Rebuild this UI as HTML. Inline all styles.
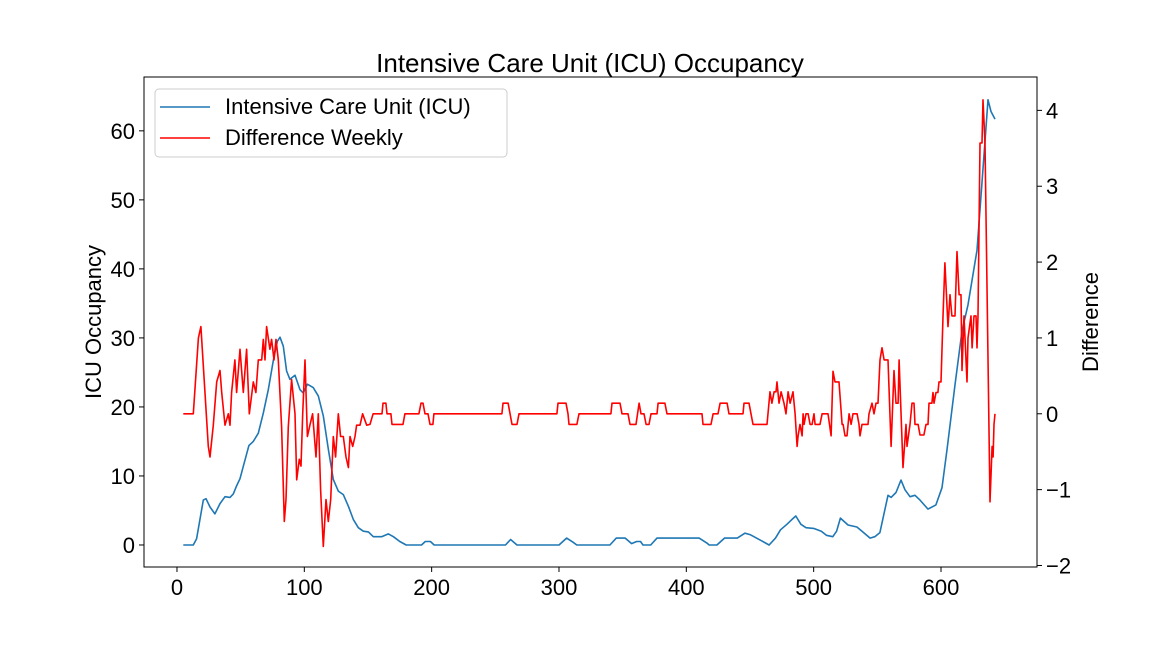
<!DOCTYPE html>
<html><head><meta charset="utf-8"><style>
html,body{margin:0;padding:0;background:#fff;}
svg{display:block;font-family:"Liberation Sans","DejaVu Sans",sans-serif;}
</style></head><body>
<svg id="chart" width="1152" height="648" viewBox="0 0 1152 648" xmlns="http://www.w3.org/2000/svg">
<rect width="1152" height="648" fill="#fff"/>
<text x="590" y="72" font-size="26" text-anchor="middle">Intensive Care Unit (ICU) Occupancy</text>
<text transform="translate(101,322) rotate(-90)" font-size="22" text-anchor="middle">ICU Occupancy</text>
<text transform="translate(1098,322) rotate(-90)" font-size="22" text-anchor="middle">Difference</text>
<g id="marks"></g>
<rect x="144" y="77" width="893" height="490" fill="none" stroke="#000" stroke-width="1"/>
<g id="ticks"></g>
<g>
<rect x="155" y="89" width="352" height="68" rx="4" fill="#fff" fill-opacity="0.8" stroke="#ccc"/>
<line x1="160" y1="107" x2="210" y2="107" stroke="#1f77b4" stroke-width="1.5"/>
<text x="225" y="114" font-size="22">Intensive Care Unit (ICU)</text>
<line x1="160" y1="138" x2="210" y2="138" stroke="#ff0000" stroke-width="1.5"/>
<text x="225" y="145" font-size="22">Difference Weekly</text>
</g>
</svg>
<script>
const icuX = [5,12.8,15.4,20.7,22.8,25.9,29.8,33.8,37.7,41.6,44.2,46.9,49.5,52.1,56.5,59.9,63.9,67.8,71.7,75.7,78.8,80.9,83.5,86.1,88.7,92.7,96.6,99.2,102.4,107,111,114.9,118.8,122.8,126.7,130.6,134.6,138.5,142.4,146.3,150.3,154.2,160.7,166,170,175,180,192,195,199,202,258,262,267,300,306,311,314,340,345,352,357,361,364,366,372,377,410,416,418,424,430,440,446,450,458,465,470,474,479,483,486,490,494,500,506,510,515,518,521,527,534,538,544.3,548,552,558.4,560.8,564.7,568.6,571.7,575.7,579.6,583.5,589.8,596,600.8,604.7,611,616.5,621.2,628.3,632.2,636.9,639.3,642.4];
const icuVals = [0,0,0.9,6.5,6.7,5.5,4.5,6.0,7.0,6.9,7.4,8.6,9.6,11.4,14.4,15.0,16.2,19.1,22.5,26.8,29.5,30.1,28.8,25.2,24.0,24.6,22.5,22.0,23.3,22.8,21.6,18.7,13.9,9.5,7.8,7.3,5.6,3.7,2.5,2.0,1.9,1.2,1.2,1.6,1.2,0.5,0,0,0.5,0.5,0,0,0.8,0,0,1,0.4,0,0,1,1,0.2,0.5,0.5,0,0,1,1,0.3,0,0,1,1,1.7,1.5,0.7,0,1,2.2,3,3.7,4.2,3,2.5,2.4,2,1.4,1.2,2.0,3.9,2.9,2.6,2.0,1.0,1.2,1.8,7.2,6.9,7.6,9.4,8.0,7.0,7.2,6.5,5.2,5.8,8.3,13.8,23.2,31,34.8,42.7,52.5,64.5,62.8,61.7];
const diffX = [5,12.8,16.8,18.8,24.6,25.9,28.5,31.2,33.8,35.1,37.7,40.3,41.6,42.9,45.5,46.8,49.5,52.1,54.7,56.8,59.9,62,63.9,66.5,67.8,69.1,70.4,73,74.3,76.2,77.8,79.6,82.2,84.3,85.6,87.4,90,92.7,94,96.1,97.4,98.7,100.5,102.4,104.4,106.5,109.2,111,112.8,114.9,117,118.8,120.7,122.8,124.6,126.7,128.5,130.6,132.7,134.6,135.9,138,139.8,141.1,143.7,145.8,149,151.6,154,161,161.8,164.1,164.9,168,168.9,177.5,179,190,191.6,193.2,194.8,197.1,198.7,201,201.8,255.2,256,260,263.1,267,268.6,298.4,299.2,305.5,307.1,307.9,314.1,315.7,340.8,341.6,347.9,349.5,354.2,355.8,360.5,362.9,364.4,366.8,368.4,370.7,372.3,377,377.8,383.2,384.8,412.3,413.1,419.4,421,424.9,426.5,432,433.5,444.5,445.3,449.2,450.8,452.4,463.4,465.7,467.2,468.9,470.4,471.2,472.8,474.4,476.7,478.3,479.9,481.5,483.8,485.4,487,487.8,489.3,490.9,491.7,492.5,494,495.6,497.2,498.8,500.3,501.1,505,506.6,511.3,513.7,515.2,516.8,519.9,522.3,523.1,524.6,526.2,527.8,529.4,530.9,534.1,535.6,536.4,538,542.7,543.5,545.8,547.4,549,550.5,552.1,553.7,555.3,558.4,560.8,563.1,564.7,566.3,567.1,570.2,572.5,573.3,575.7,577.2,578.8,579.6,582,583.5,586.6,588.2,589.8,590.6,592.9,593.7,594.5,596.1,597.6,598.4,600,601.6,603.1,605.5,607.1,608.6,611,612.6,614.2,615.7,616.5,618.1,620.4,621.2,623.6,624.4,625.9,627.5,628.3,629.1,630.6,632.2,633,634.6,638.5,640.1,640.9,641.6,642.4];
const diffVals = [0,0,1.0,1.15,-0.43,-0.57,-0.15,0.42,0.57,0.28,-0.15,0,-0.15,0.28,0.71,0.28,0.85,0.28,0.85,0,0.42,0.28,0.71,0.71,0.98,0.71,1.15,0.85,0.98,0.71,0.98,0.71,-0.17,-1.42,-1.13,-0.17,0.45,0,-0.87,-0.6,-0.69,0,0.71,-0.3,-0.15,0,-0.57,0,-1.0,-1.75,-1.13,-1.42,-1.13,-0.3,-0.57,0,-0.3,-0.3,-0.57,-0.71,-0.3,-0.43,-0.3,-0.15,-0.15,0,-0.15,-0.14,0,0,0.14,0.14,0,0,-0.14,-0.14,0,0,0.14,0.14,0,0,-0.14,-0.14,0,0,0.14,0.14,-0.14,-0.14,0,0,0.14,0.14,0,-0.14,-0.14,0,0,0.14,0.14,0,0,-0.14,-0.14,0.14,0,0,-0.14,-0.14,0,0,0.14,0.14,0,0,-0.14,-0.14,0,0,0.14,0.14,0,0,0.14,0.14,0,-0.14,-0.14,0.29,0.14,0.29,0.29,0.42,0.14,0.29,0.14,0,0.29,0.14,0.29,0,-0.43,-0.29,-0.14,-0.29,0,-0.14,0,0,-0.14,-0.14,0,-0.14,-0.14,0,0,-0.29,0.56,0.42,0.42,-0.14,-0.14,-0.29,-0.29,0,-0.14,0,0,-0.14,-0.29,-0.14,-0.14,0,0.14,0,0.14,0.14,0.71,0.87,0.71,0.71,-0.43,0.57,0.14,0.14,0.71,-0.71,-0.14,-0.43,-0.14,0.14,0.14,-0.14,-0.14,-0.28,-0.28,-0.14,-0.14,0.14,0.14,0.28,0.14,0.28,0.28,0.42,0.42,1.28,1.99,1.15,1.57,1.29,1.29,2.14,1.57,1.57,0.57,1.29,0.42,1.0,1.29,0.87,1.29,1.29,0.87,1.29,3.57,3.57,4.14,3.57,-1.16,-0.43,-0.57,-0.14,0];
const xTicks = [0,100,200,300,400,500,600];
const yTicks = [0,10,20,30,40,50,60];
const y2Ticks = [-2,-1,0,1,2,3,4];

const L=144,R=1037,T=77,B=567;
const xMin=-25.9,xMax=675.4,yMin=-3.19,yMax=67.8,y2Min=-2.02,y2Max=4.44;
const sx=v=>L+(v-xMin)/(xMax-xMin)*(R-L);
const sy=v=>B-(v-yMin)/(yMax-yMin)*(B-T);
const sy2=v=>B-(v-y2Min)/(y2Max-y2Min)*(B-T);
const NS="http://www.w3.org/2000/svg";
const marks=document.getElementById('marks');
function line(xs,vs,fy,color,name){
  const p=document.createElementNS(NS,'path');
  p.setAttribute('d',xs.map((x,i)=>(i?'L':'M')+sx(x).toFixed(1)+','+fy(vs[i]).toFixed(1)).join(''));
  p.setAttribute('fill','none');p.setAttribute('stroke',color);p.setAttribute('stroke-width','1.6');
  p.setAttribute('stroke-linejoin','round');
  
  
  marks.appendChild(p);
}
line(icuX,icuVals,sy,'#1f77b4','icu-occupancy-line');
line(diffX,diffVals,sy2,'#ff0000','difference-weekly-line');
const tg=document.getElementById('ticks');
function tick(x1,y1,x2,y2,tx,ty,anchor,label,name){
  const l=document.createElementNS(NS,'line');
  l.setAttribute('x1',x1);l.setAttribute('y1',y1);l.setAttribute('x2',x2);l.setAttribute('y2',y2);
  l.setAttribute('stroke','#000');
  tg.appendChild(l);
  const t=document.createElementNS(NS,'text');
  t.setAttribute('x',tx);t.setAttribute('y',ty);t.setAttribute('text-anchor',anchor);t.setAttribute('font-size','22');
  t.textContent=label;
  
  
  tg.appendChild(t);
}
xTicks.forEach(v=>{const x=sx(v);tick(x,B,x,B+5,x,B+28,'middle',String(v),'x-tick-label');});
yTicks.forEach(v=>{const y=sy(v);tick(L-5,y,L,y,L-9,y+8,'end',String(v),'y-tick-label');});
y2Ticks.forEach(v=>{const y=sy2(v);tick(R,y,R+5,y,R+9,y+8,'start',v<0?'\u2212'+Math.abs(v):String(v),'y2-tick-label');});
</script>
</body></html>
